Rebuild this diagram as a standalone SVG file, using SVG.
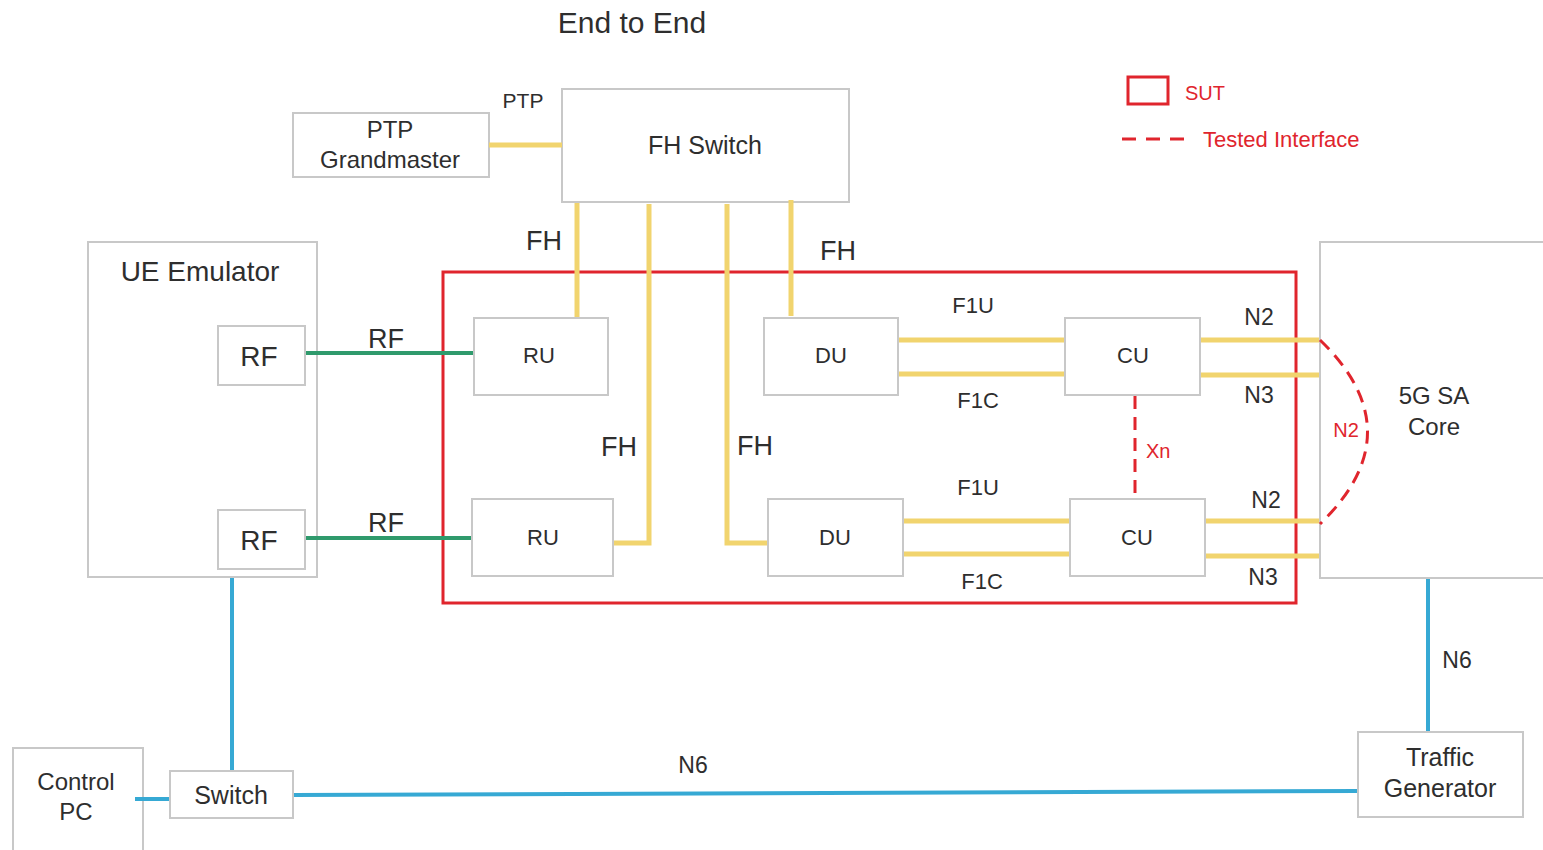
<svg xmlns="http://www.w3.org/2000/svg" width="1543" height="850" viewBox="0 0 1543 850">
<style>
.box{fill:#fff;stroke:#c8c8c8;stroke-width:2}
.t{font-family:"Liberation Sans",Arial,sans-serif;fill:#2e2e2e;text-anchor:middle}
.r{font-family:"Liberation Sans",Arial,sans-serif;fill:#e0252d}
.y{stroke:#f1d46e;stroke-width:5;fill:none}
.g{stroke:#2f9a6c;stroke-width:4;fill:none}
.b{stroke:#36a9d4;stroke-width:4;fill:none}
.d{stroke:#e0252d;stroke-width:3;fill:none;stroke-dasharray:13 8}
</style>
<rect width="1543" height="850" fill="#fff"/>
<text class="t" x="632" y="33" font-size="30">End to End</text>

<g id="sut"><rect x="443" y="272" width="853" height="331" fill="none" stroke="#e0252d" stroke-width="3"/></g>

<g id="ptp-grandmaster"><rect class="box" x="293" y="113" width="196" height="64"/>
  <text class="t" x="390" y="138" font-size="24">PTP</text>
  <text class="t" x="390" y="168" font-size="24">Grandmaster</text></g>
<g id="fh-switch"><rect class="box" x="562" y="89" width="287" height="113"/>
  <text class="t" x="705" y="154" font-size="25">FH Switch</text></g>
<g id="ue-emulator"><rect class="box" x="88" y="242" width="229" height="335"/>
  <text class="t" x="200" y="281" font-size="28">UE Emulator</text></g>
<g id="rf1"><rect class="box" x="218" y="326" width="87" height="59"/>
  <text class="t" x="259" y="366" font-size="28">RF</text></g>
<g id="rf2"><rect class="box" x="218" y="510" width="87" height="59"/>
  <text class="t" x="259" y="550" font-size="28">RF</text></g>
<g id="ru1"><rect class="box" x="474" y="318" width="134" height="77"/>
  <text class="t" x="539" y="363" font-size="22">RU</text></g>
<g id="ru2"><rect class="box" x="472" y="499" width="141" height="77"/>
  <text class="t" x="543" y="545" font-size="22">RU</text></g>
<g id="du1"><rect class="box" x="764" y="318" width="134" height="77"/>
  <text class="t" x="831" y="363" font-size="22">DU</text></g>
<g id="du2"><rect class="box" x="768" y="499" width="135" height="77"/>
  <text class="t" x="835" y="545" font-size="22">DU</text></g>
<g id="cu1"><rect class="box" x="1065" y="318" width="135" height="77"/>
  <text class="t" x="1133" y="363" font-size="22">CU</text></g>
<g id="cu2"><rect class="box" x="1070" y="499" width="135" height="77"/>
  <text class="t" x="1137" y="545" font-size="22">CU</text></g>
<g id="core"><rect class="box" x="1320" y="242" width="230" height="336"/>
  <text class="t" x="1434" y="404" font-size="24">5G SA</text>
  <text class="t" x="1434" y="435" font-size="24">Core</text></g>
<g id="traffic-generator"><rect class="box" x="1358" y="732" width="165" height="85"/>
  <text class="t" x="1440" y="766" font-size="25">Traffic</text>
  <text class="t" x="1440" y="797" font-size="25">Generator</text></g>
<g id="control-pc"><rect class="box" x="13" y="748" width="130" height="110"/>
  <text class="t" x="76" y="790" font-size="24">Control</text>
  <text class="t" x="76" y="820" font-size="24">PC</text></g>
<g id="switch"><rect class="box" x="170" y="771" width="123" height="47"/>
  <text class="t" x="231" y="804" font-size="25">Switch</text></g>

<g id="connectors">
  <line class="y" x1="489" y1="145" x2="562" y2="145"/>
  <line class="y" x1="577" y1="203" x2="577" y2="317"/>
  <polyline class="y" points="649,204 649,543 614,543"/>
  <polyline class="y" points="727,204 727,543 767,543"/>
  <line class="y" x1="791" y1="200" x2="791" y2="316"/>
  <line class="y" x1="899" y1="340" x2="1064" y2="340"/>
  <line class="y" x1="899" y1="374" x2="1064" y2="374"/>
  <line class="y" x1="904" y1="521" x2="1069" y2="521"/>
  <line class="y" x1="904" y1="554" x2="1069" y2="554"/>
  <line class="y" x1="1201" y1="340" x2="1319" y2="340"/>
  <line class="y" x1="1201" y1="375" x2="1319" y2="375"/>
  <line class="y" x1="1206" y1="521" x2="1319" y2="521"/>
  <line class="y" x1="1206" y1="556" x2="1319" y2="556"/>
  <line class="g" x1="306" y1="353" x2="473" y2="353"/>
  <line class="g" x1="306" y1="538" x2="471" y2="538"/>
  <line class="b" x1="232" y1="578" x2="232" y2="770"/>
  <line class="b" x1="135" y1="799" x2="169" y2="799"/>
  <line class="b" x1="294" y1="795" x2="1357" y2="791"/>
  <line class="b" x1="1428" y1="579" x2="1428" y2="731"/>
  <line class="d" x1="1135" y1="396" x2="1135" y2="498"/>
  <path class="d" d="M1320,340 Q1415,432 1320,524"/>
  <text class="t" x="523" y="108" font-size="21">PTP</text>
  <text class="t" x="544" y="250" font-size="27">FH</text>
  <text class="t" x="838" y="260" font-size="27">FH</text>
  <text class="t" x="619" y="456" font-size="27">FH</text>
  <text class="t" x="755" y="455" font-size="27">FH</text>
  <text class="t" x="386" y="348" font-size="27">RF</text>
  <text class="t" x="386" y="532" font-size="27">RF</text>
  <text class="t" x="973" y="313" font-size="22">F1U</text>
  <text class="t" x="978" y="408" font-size="22">F1C</text>
  <text class="t" x="978" y="495" font-size="22">F1U</text>
  <text class="t" x="982" y="589" font-size="22">F1C</text>
  <text class="t" x="1259" y="325" font-size="23">N2</text>
  <text class="t" x="1259" y="403" font-size="23">N3</text>
  <text class="t" x="1266" y="508" font-size="23">N2</text>
  <text class="t" x="1263" y="585" font-size="23">N3</text>
  <text class="r" x="1146" y="458" font-size="20">Xn</text>
  <text class="r" x="1346" y="437" font-size="20" text-anchor="middle">N2</text>
  <text class="t" x="693" y="773" font-size="23">N6</text>
  <text class="t" x="1457" y="668" font-size="23">N6</text>
</g>

<g id="legend">
  <rect x="1128" y="77" width="40" height="27" fill="none" stroke="#e0252d" stroke-width="3"/>
  <text class="r" x="1185" y="100" font-size="20">SUT</text>
  <line x1="1122" y1="139" x2="1184" y2="139" stroke="#e0252d" stroke-width="3" stroke-dasharray="14 10"/>
  <text class="r" x="1203" y="147" font-size="22">Tested Interface</text>
</g>
</svg>
